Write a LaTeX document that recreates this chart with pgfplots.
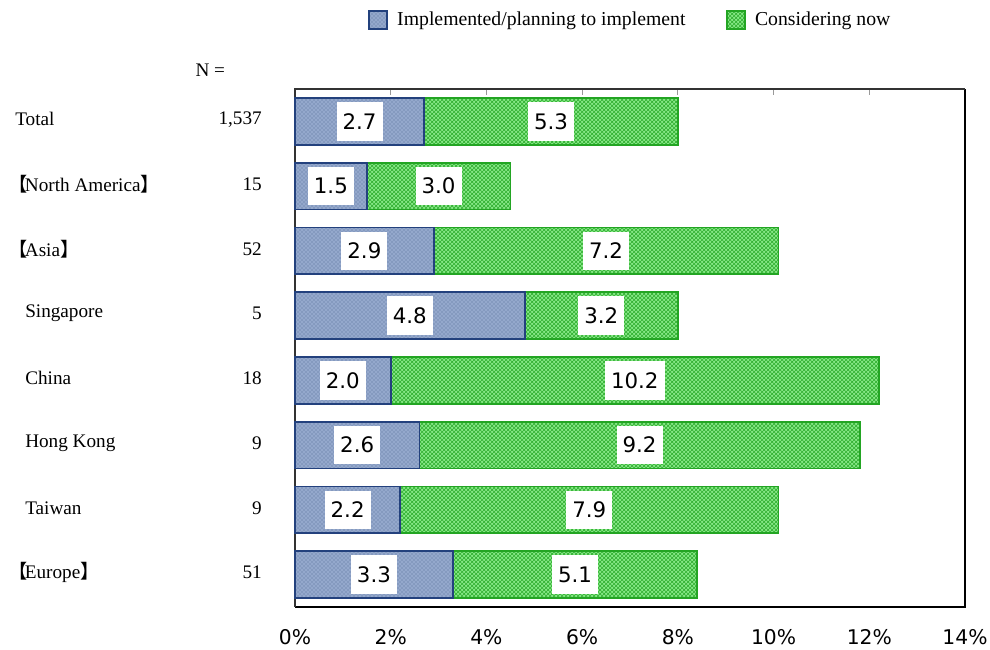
\documentclass[border=0pt]{standalone}
\usepackage{fontspec}
\usepackage{pgfplots}
\pgfplotsset{compat=1.18}
\usepackage{pgfplotstable}
\usetikzlibrary{patterns}
\setmainfont{Liberation Serif}
\newfontfamily\dvfont{DejaVu Sans}
\newfontfamily\cjkfont{Noto Sans CJK SC}
\newcommand\labfont{\fontsize{14.4}{17}\selectfont}
\newcommand\legfont{\fontsize{14.8}{17}\selectfont}
\definecolor{bluefill}{RGB}{148,168,204}
\definecolor{bluedot}{RGB}{85,108,150}
\definecolor{bluedark}{RGB}{35,65,125}
\definecolor{greenfill}{RGB}{135,232,135}
\definecolor{greenhatch}{RGB}{45,172,45}
\definecolor{greendark}{RGB}{35,165,35}
\tikzset{lbl/.style={font=\labfont, inner sep=0pt}}

\pgfplotstableread{
cat impl cons
7 2.7 5.3
6 1.5 3.0
5 2.9 7.2
4 4.8 3.2
3 2.0 10.2
2 2.6 9.2
1 2.2 7.9
0 3.3 5.1
}\chartdata

\begin{document}
\begin{tikzpicture}
\path[use as bounding box] (-221.25pt,-32.25pt) rectangle (521.25pt,455.25pt);
\begin{axis}[
  at={(0,0)}, anchor=south west,
  width=502.5pt, height=388.5pt, scale only axis,
  xbar stacked, bar width=35pt,
  xmin=0, xmax=14, ymin=-0.5, ymax=7.5,
  ytick=\empty,
  xtick={0,2,...,14},
  xticklabels={0\%,2\%,4\%,6\%,8\%,10\%,12\%,14\%},
  xtick pos=right, xticklabel pos=left,
  tick align=inside, major tick length=4.5pt,
  x tick style={gray!80, line width=0.8pt},
  axis line style={draw=none},
  xticklabel style={font=\dvfont\fontsize{15.2}{18}\selectfont, inner sep=0pt, yshift=-16.5pt},
  clip=false,
  legend style={at={(0.109,1.133)}, anchor=west, draw=none, inner sep=0pt,
    legend columns=2, font=\legfont,
    /tikz/every even column/.append style={column sep=28.5pt}},
  legend image code/.code={\draw[#1] (0pt,-6.75pt) rectangle (13.5pt,6.75pt); \path (18.5pt,0pt);},
]
\addplot[fill=bluefill, draw=bluedark, line width=1.2pt,
  postaction={pattern=crosshatch dots, pattern color=bluedot}]
  table[x=impl, y=cat] {\chartdata};
\addplot[fill=greenfill, draw=greendark, line width=1.2pt,
  postaction={pattern=crosshatch, pattern color=greenhatch}]
  table[x=cons, y=cat] {\chartdata};
\legend{Implemented/planning to implement, Considering now}

\draw[gray!40!black, line width=1.2pt] (rel axis cs:0,0) -- (rel axis cs:0,1) -- (rel axis cs:1,1);
\draw[black, line width=1.6pt] (rel axis cs:1,1) -- (rel axis cs:1,0) -- (rel axis cs:0,0);

\node[lbl, anchor=west, xshift=-210pt, yshift=1.5pt] at (axis cs:0,7) {Total};
\node[lbl, anchor=west, xshift=-215pt, yshift=1.5pt] at (axis cs:0,6) {{\cjkfont 【}\kern-0.15em North America{\cjkfont 】}};
\node[lbl, anchor=west, xshift=-215pt, yshift=1.5pt] at (axis cs:0,5) {{\cjkfont 【}\kern-0.15em Asia{\cjkfont 】}};
\node[lbl, anchor=west, xshift=-202.5pt, yshift=1.5pt] at (axis cs:0,4) {Singapore};
\node[lbl, anchor=west, xshift=-202.5pt, yshift=1.5pt] at (axis cs:0,3) {China};
\node[lbl, anchor=west, xshift=-202.5pt, yshift=1.5pt] at (axis cs:0,2) {Hong Kong};
\node[lbl, anchor=west, xshift=-202.5pt, yshift=1.5pt] at (axis cs:0,1) {Taiwan};
\node[lbl, anchor=west, xshift=-215pt, yshift=1.5pt] at (axis cs:0,0) {{\cjkfont 【}\kern-0.15em Europe{\cjkfont 】}};
\node[lbl, anchor=east, xshift=-24.75pt, yshift=1.5pt] at (axis cs:0,7) {1,537};
\node[lbl, anchor=east, xshift=-24.75pt, yshift=1.5pt] at (axis cs:0,6) {15};
\node[lbl, anchor=east, xshift=-24.75pt, yshift=1.5pt] at (axis cs:0,5) {52};
\node[lbl, anchor=east, xshift=-24.75pt, yshift=1.5pt] at (axis cs:0,4) {5};
\node[lbl, anchor=east, xshift=-24.75pt, yshift=1.5pt] at (axis cs:0,3) {18};
\node[lbl, anchor=east, xshift=-24.75pt, yshift=1.5pt] at (axis cs:0,2) {9};
\node[lbl, anchor=east, xshift=-24.75pt, yshift=1.5pt] at (axis cs:0,1) {9};
\node[lbl, anchor=east, xshift=-24.75pt, yshift=1.5pt] at (axis cs:0,0) {51};
\node[lbl, xshift=-63.5pt, yshift=14.25pt] at (rel axis cs:0,1) {N =};
\end{axis}

\begin{axis}[
  at={(0,0)}, anchor=south west,
  width=502.5pt, height=388.5pt, scale only axis,
  xmin=0, xmax=14, ymin=-0.5, ymax=7.5,
  hide axis, clip=false,
  point meta=explicit,
  nodes near coords={\pgfmathprintnumber[fixed, fixed zerofill, precision=1, assume math mode=true]{\pgfplotspointmeta}},
  nodes near coords style={anchor=center, fill=white, font=\dvfont\fontsize{16}{19}\selectfont,
    inner xsep=4.5pt, inner ysep=0pt, minimum height=29pt},
]
\addplot[draw=none, mark=none] table[x expr=\thisrow{impl}/2, y=cat, meta=impl] {\chartdata};
\addplot[draw=none, mark=none] table[x expr=\thisrow{impl}+\thisrow{cons}/2, y=cat, meta=cons] {\chartdata};
\end{axis}
\end{tikzpicture}
\end{document}
